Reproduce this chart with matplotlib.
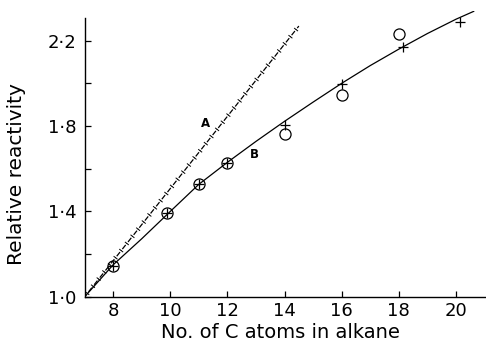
import numpy as np
import matplotlib
matplotlib.use("Agg")
import matplotlib.pyplot as plt
import matplotlib.patheffects as pe

plt.rcParams['font.family'] = ['DejaVu Sans']
plt.rcParams['lines.scale_dashes'] = False

# datos
circ_x = [8, 9.9, 11, 12, 14, 16, 18]
circ_y = [1.145, 1.394, 1.530, 1.628, 1.764, 1.946, 2.229]

plus_x = [8, 9.9, 11, 12, 14, 16, 18.15, 20.15]
plus_y = [1.145, 1.394, 1.530, 1.628, 1.805, 1.995, 2.170, 2.287]

# curva B (suave, leida punto a punto)
curve_x = [7, 8, 9, 10, 11, 12, 13, 14, 15, 16, 17, 18, 19, 20, 20.64]
curve_y = [1.0, 1.15, 1.272, 1.40, 1.527, 1.63, 1.728, 1.822, 1.912, 2.0,
           2.083, 2.16, 2.233, 2.30, 2.338]

# recta A
line_a_x = [7, 14.5]
line_a_y = [1.0, 2.268]

x_ticks = [8, 10, 12, 14, 16, 18, 20]
y_major = [1.0, 1.4, 1.8, 2.2]
y_minor = [1.2, 1.6, 2.0]

DPI = 100
fig = plt.figure(figsize=(4.86, 3.44), dpi=DPI)
ax = fig.add_axes([0.174, 0.137, 0.826, 0.832])
ax.set_xlim(7, 21.05)
ax.set_ylim(1.0, 2.34)

for s in ['top', 'right']:
    ax.spines[s].set_visible(False)
ax.spines['left'].set_bounds(1.0, 2.305)
ax.spines['left'].set_linewidth(1.0)
ax.spines['bottom'].set_linewidth(1.0)

ax.set_xticks(x_ticks)
ax.set_xticklabels([str(v) for v in x_ticks])
ax.set_yticks(y_major)
ax.set_yticklabels([f"{v:.1f}".replace('.', '\u00b7') for v in y_major])
ax.set_yticks(y_minor, minor=True)
ax.tick_params(axis='both', which='both', direction='in', length=4.3, width=0.9,
               labelsize=13)
ax.tick_params(axis='x', pad=4)
ax.tick_params(axis='y', pad=6)

# curva B
ax.plot(curve_x, curve_y, color='black', lw=0.9, solid_capstyle='butt')

# recta A: guiones con marcas perpendiculares en los huecos
p0, p1 = ax.transData.transform([(line_a_x[0], line_a_y[0]),
                                  (line_a_x[-1], line_a_y[-1])])
L = np.hypot(*(p1 - p0))
n_ticks = int(L / 9.0)
sp = L / (n_ticks + 0.5)
d = sp * (n_ticks - 0.5) / (n_ticks - 1)
px2pt = 72.0 / DPI
on, off = 0.58 * d, 0.42 * d
offset = (on + off / 2 - sp / 2) % d
ax.plot(line_a_x, line_a_y, color='black', lw=0.9,
        linestyle=(offset * px2pt, (on * px2pt, off * px2pt)), dash_capstyle='butt')
half = 2.0 / sp
ax.plot(line_a_x, line_a_y, color='black', lw=0.7,
        path_effects=[pe.TickedStroke(angle=90, spacing=sp * px2pt, length=half),
                      pe.TickedStroke(angle=-90, spacing=sp * px2pt, length=half)])

# puntos
ax.plot(circ_x, circ_y, 'o', mfc='none', mec='black', ms=8, mew=0.9, clip_on=False)
ax.plot(plus_x, plus_y, '+', color='black', ms=7.5, mew=0.9, clip_on=False)

ax.text(11.23, 1.81, 'A', fontsize=8.5, fontweight='bold', ha='center', va='center')
ax.text(12.95, 1.668, 'B', fontsize=8.5, fontweight='bold', ha='center', va='center')

ax.set_xlabel('No. of C atoms in alkane', fontsize=14)
ax.xaxis.set_label_coords(0.488, -0.09)
ax.set_ylabel('Relative reactivity', fontsize=14.5)
ax.yaxis.set_label_coords(-0.145, 0.43)

fig.savefig('out.png', dpi=DPI)
